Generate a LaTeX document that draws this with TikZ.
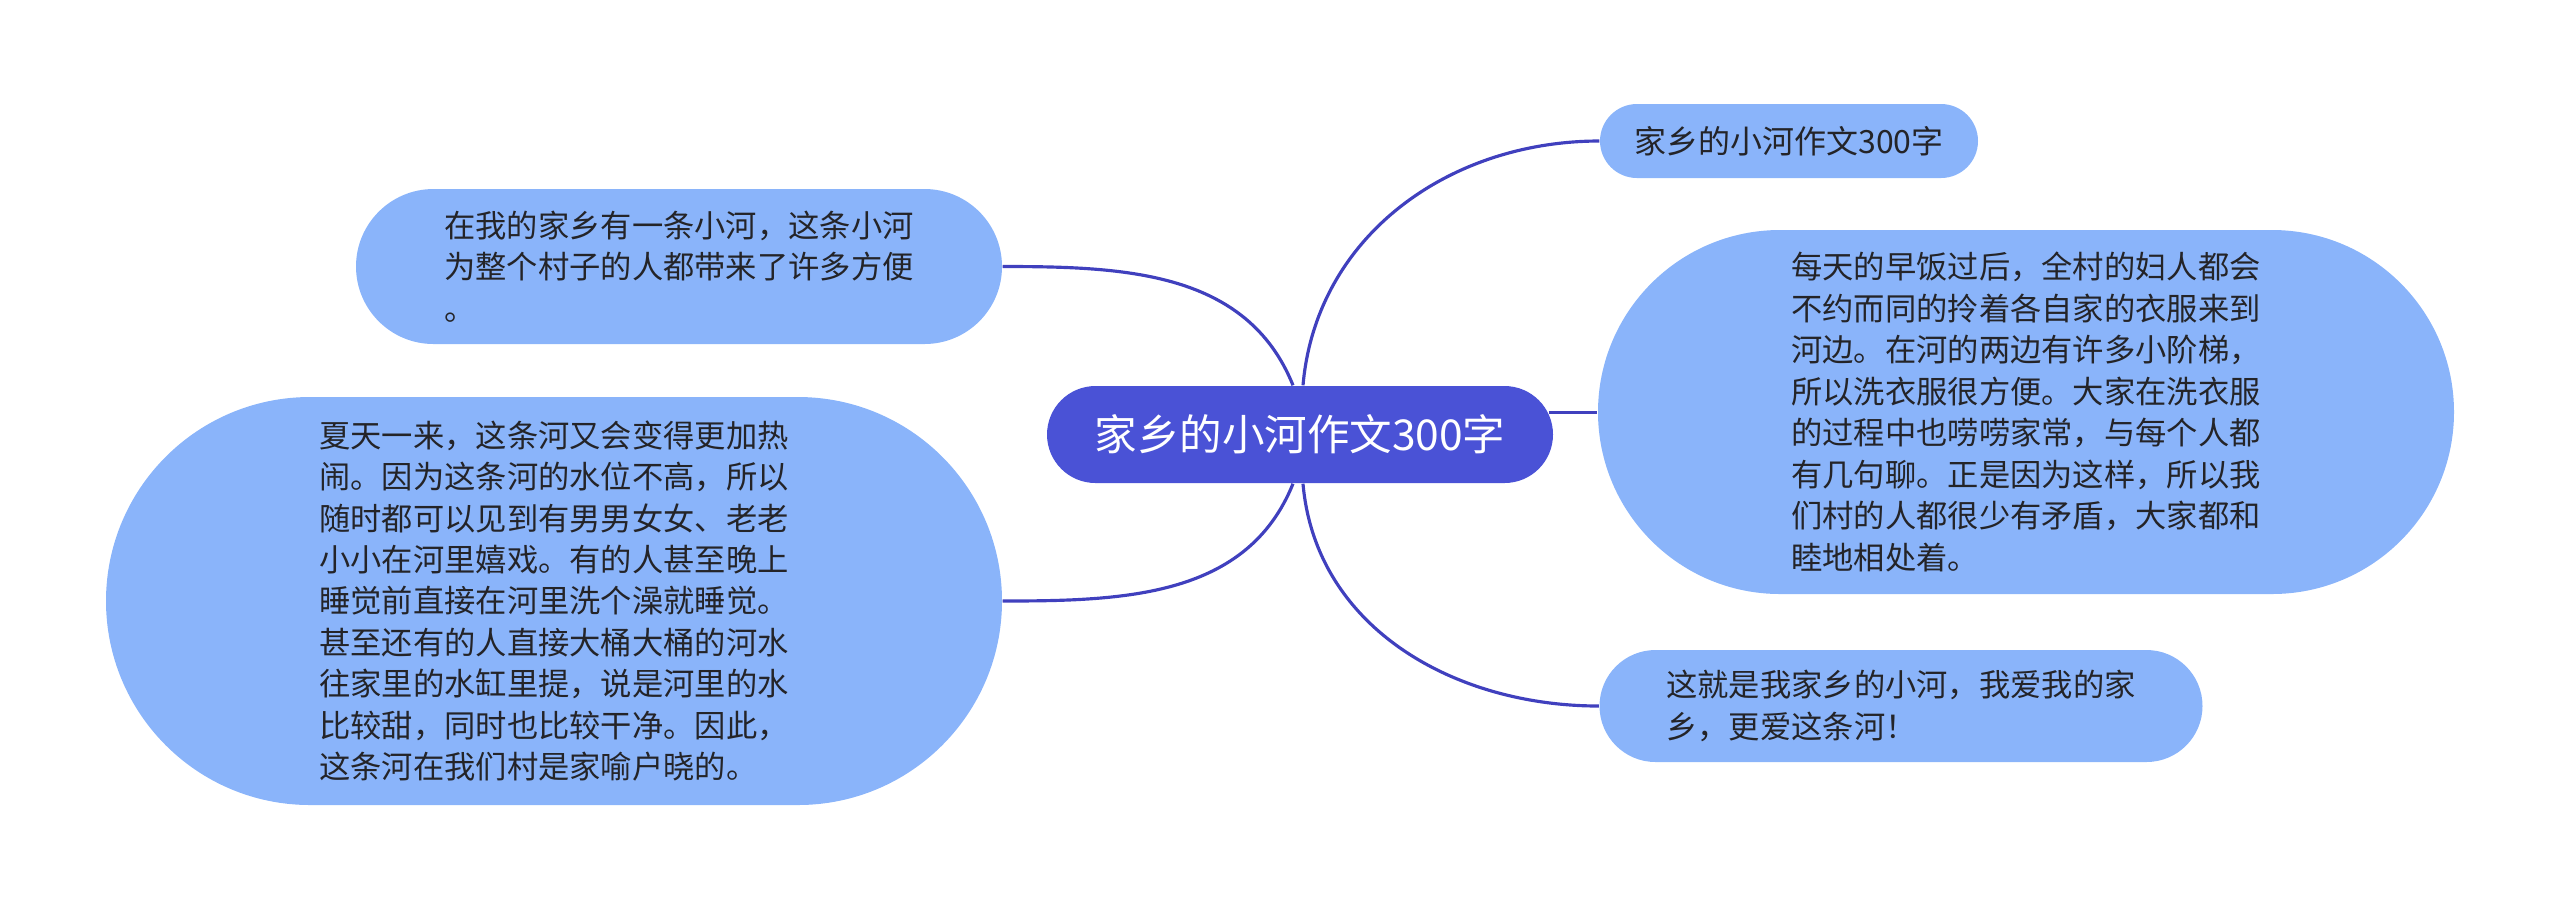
\documentclass[tikz,border=0pt]{standalone}
\usepackage{fontspec}
\setmainfont{Noto Sans CJK SC}
\usetikzlibrary{shapes.misc}
\definecolor{leafblue}{RGB}{138,180,250}
\definecolor{hubblue}{RGB}{74,82,214}
\definecolor{branchblue}{RGB}{64,64,190}
\definecolor{ink}{RGB}{36,36,40}
\tikzset{
  leaf/.style={rounded rectangle, fill=leafblue, text=ink, align=left,
    inner xsep=0pt, inner ysep=0pt, font=\fontsize{8.9}{11.8}\selectfont},
  branch/.style={draw=branchblue, line width=0.9pt},
}

\begin{document}
\begin{tikzpicture}
  \useasboundingbox (0,0) rectangle (25.6,-9.11);

  \node [rounded rectangle, fill=hubblue, text=white, inner xsep=0pt, minimum width=5.06cm,
    minimum height=0.97cm, font=\fontsize{12.1}{15}\selectfont] (topic) at (13.00,-4.345) {家乡的小河作文300字};

  \begin{scope}[every node/.style={leaf}]
    \node [minimum width=3.78cm, minimum height=0.74cm, font=\fontsize{9.1}{12}\selectfont] (title) at (17.89,-1.41) {家乡的小河作文300字};
    \node [minimum width=8.56cm, minimum height=3.64cm] (wash) at (20.26,-4.12)
      {每天的早饭过后，全村的妇人都会\\不约而同的拎着各自家的衣服来到\\河边。在河的两边有许多小阶梯，\\所以洗衣服很方便。大家在洗衣服\\的过程中也唠唠家常，与每个人都\\有几句聊。正是因为这样，所以我\\们村的人都很少有矛盾，大家都和\\睦地相处着。};
    \node [minimum width=6.03cm, minimum height=1.12cm] (ending) at (19.01,-7.06)
      {这就是我家乡的小河，我爱我的家\\乡，更爱这条河！};
    \node [minimum width=6.46cm, minimum height=1.55cm] (intro) at (6.79,-2.665)
      {在我的家乡有一条小河，这条小河\\为整个村子的人都带来了许多方便\\。};
    \node [minimum width=8.96cm, minimum height=4.08cm] (summer) at (5.54,-6.01)
      {夏天一来，这条河又会变得更加热\\闹。因为这条河的水位不高，所以\\随时都可以见到有男男女女、老老\\小小在河里嬉戏。有的人甚至晚上\\睡觉前直接在河里洗个澡就睡觉。\\甚至还有的人直接大桶大桶的河水\\往家里的水缸里提，说是河里的水\\比较甜，同时也比较干净。因此，\\这条河在我们村是家喻户晓的。};
  \end{scope}

  \begin{scope}[branch]
    \draw ([xshift=-0.07cm]topic.north) to [out=112, in=0] (intro.east);
    \draw ([xshift=0.03cm]topic.north) to [out=85, in=180] (title.west);
    \draw (topic.5) -- (topic.5 -| wash.west);
    \draw ([xshift=-0.07cm]topic.south) to [out=-112, in=0] (summer.east);
    \draw ([xshift=0.03cm]topic.south) to [out=-85, in=180] (ending.west);
  \end{scope}
\end{tikzpicture}
\end{document}
